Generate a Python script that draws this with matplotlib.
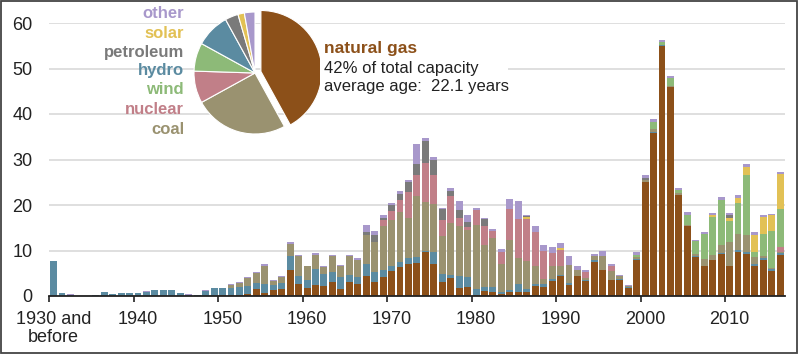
import numpy as np
import matplotlib
matplotlib.use("Agg")
import matplotlib.pyplot as plt
import matplotlib.transforms as mtrans
from matplotlib.patches import Rectangle

plt.rcParams['font.family'] = ['Liberation Sans', 'DejaVu Sans']

# capacity by initial year of operation (GW), 1930 and before .. 2016
years = list(range(1930, 2017))

gas = [0]*20 + [
    0.2, 0.3, 0.3, 0.4, 1.6, 0.7, 1.3, 1.5, 5.7, 2.6,
    1.8, 2.35, 2.3, 3.1, 1.6, 3.1, 2.6, 4.4, 3.1, 4.2,
    5.5, 6.4, 7.1, 7.2, 9.6, 7.1, 3.1, 4.0, 1.8, 2.0,
    0.3, 1.2, 0.9, 0.4, 0.8, 0.9, 0.9, 2.2, 2.0, 3.2,
    4.3, 2.5, 4.3, 3.4, 7.5, 5.7, 3.5, 3.5, 1.8, 8.0,
    25.0, 35.9, 55.0, 45.9, 22.2, 15.3, 8.6, 6.5, 7.9, 9.3,
    6.5, 9.7, 9.3, 6.7, 8.0, 5.6, 9.0]
hydro = [
    7.6, 0.6, 0.3, 0.1, 0.1, 0.25, 0.85, 0.35, 0.6, 0.6,
    0.6, 0.9, 1.3, 1.3, 1.3, 0.6, 0.3, 0.2, 1.2, 1.7,
    1.5, 1.5, 1.7, 1.8, 1.2, 1.9, 1.1, 1.3, 3.2, 1.9,
    1.7, 3.5, 2.5, 2.2, 2.6, 1.6, 1.5, 2.7, 2.2, 1.6,
    1.1, 1.1, 1.3, 1.3, 0.4, 2.6, 1.8, 0.7, 2.6, 2.1,
    1.2, 0.7, 1.0, 0.5, 0.5, 1.8, 0.7, 0.5, 0.6, 0.6,
    0.4, 0.4, 0.2, 0.2, 0.4, 0.1, 0.1, 0.3, 0.1, 0.1,
    0.1, 0.1, 0.1, 0.1, 0.1, 0.1, 0.1, 0.1, 0.1, 0.1,
    0.2, 0.4, 0.4, 0.4, 0.4, 0.4, 0.5]
coal = [0]*20 + [
    0.0, 0.6, 0.8, 1.8, 2.3, 4.0, 0.9, 1.4, 2.5, 4.3,
    3.0, 3.2, 1.5, 3.4, 2.4, 4.0, 3.9, 6.4, 6.6, 9.5,
    10.2, 11.0, 8.8, 13.5, 10.6, 10.5, 8.2, 11.3, 10.9, 10.3,
    14.2, 9.2, 10.8, 6.2, 11.0, 5.7, 6.1, 3.9, 1.2, 2.9,
    1.8, 3.9, 1.3, 0.4, 0.9, 2.9, 1.8, 0.5, 0.2, 0.5,
    0.4, 0.6, 0.1, 0.1, 0.3, 0.1, 0.6, 1.5, 1.1, 1.8,
    5.2, 3.5, 3.7, 1.5, 0.3, 0.1, 0.1]
nuclear = [0]*39 + [
    1.3,
    1.9, 2.7, 5.7, 4.5, 8.7, 6.4, 3.7, 5.9, 1.9, 0.7,
    3.1, 4.3, 1.5, 2.6, 6.8, 8.6, 9.3, 7.5, 6.2, 2.7,
    3.7, 0, 0, 1.2, 0, 0, 1.1, 0, 0, 0] + [0]*16 + [1.2]
wind = [0]*69 + [
    0.5,
    0.0, 1.6, 0.6, 1.8, 0.7, 2.4, 2.7, 5.6, 8.3, 9.9,
    4.6, 6.9, 13.2, 1.1, 5.0, 8.1, 8.4]
solar = [0]*56 + [0.3, 0, 0, 0, 0.4] + [0]*17 + [
    0.5, 0.0,
    0.6, 1.0, 1.7, 3.7, 3.7, 3.5, 7.7]
petroleum = [0]*37 + [
    0.6, 1.5, 0.5,
    1.2, 1.3, 2.2, 2.6, 4.8, 3.3, 2.3, 1.2, 1.8, 1.2,
    0, 1.5, 0, 0, 0, 0, 0.2, 0, 0, 0] + [0]*10 + [
    0.5] + [0]*9 + [0.7, 0, 0, 0, 0, 0, 0]
other = [
    0.2, 0.1, 0.05, 0, 0, 0.05, 0.1, 0.05, 0.1, 0.1,
    0.1, 0.1, 0.1, 0.1, 0.1, 0.1, 0.05, 0.1, 0.1, 0.15,
    0.15, 0.15, 0.2, 0.2, 0.25, 0.4, 0.2, 0.2, 0.4, 0.3,
    0.2, 0.3, 0.2, 0.3, 0.3, 0.3, 0.4, 1.4, 0.9, 0.6,
    0.5, 0.5, 0.5, 4.3, 0.6, 0.7, 0.3, 0.7, 1.8, 1.5,
    0.6, 0.3, 0.6, 0.6, 2.3, 3.9, 0.3, 1.3, 1.1, 1.3,
    0.95, 2.0, 0.7, 0.6, 0.4, 1.1, 0.5, 0.4, 0.3, 0.5,
    0.5, 0.6, 0.5, 0.45, 0.5, 0.5, 0.4, 0.4, 0.4, 0.6,
    0.45, 0.6, 0.7, 0.7, 0.5, 0.4, 0.3]

# share of total capacity (%) for the pie
pie_labels = ['natural gas', 'coal', 'nuclear', 'wind', 'hydro', 'petroleum', 'solar', 'other']
pie_share = [42, 25, 8.5, 7.5, 9, 3.5, 1.7, 2.8]

c_gas = '#8c5019'
c_coal = '#9a9270'
c_nuc = '#c17f88'
c_wind = '#8dba78'
c_hydro = '#5b8ba1'
c_pet = '#7a7a7a'
c_solar = '#e2c155'
c_other = '#a898cb'

stack = [(gas, c_gas), (hydro, c_hydro), (coal, c_coal), (nuclear, c_nuc),
         (wind, c_wind), (solar, c_solar), (petroleum, c_pet), (other, c_other)]

W, H = 800, 355
def fx(p): return p / W
def fy(p): return 1 - p / H

fig = plt.figure(figsize=(8, 3.55), dpi=100)
ax = fig.add_axes([fx(49.3), fy(296), (784.5 - 49.3) / W, 273 / H])

x = np.arange(len(years)) + 0.5
bottom = np.zeros(len(years))
for vals, col in stack:
    vals = np.array(vals, dtype=float)
    ax.bar(x, vals, width=0.82, bottom=bottom, color=col, linewidth=0)
    bottom += vals

ax.set_xlim(0, len(years))
ax.set_ylim(0, 60)
ax.set_yticks(range(0, 61, 10))
ax.yaxis.grid(True, color='#dcdcdc', linewidth=1.3)
ax.set_axisbelow(True)
for s in ['top', 'right', 'left']:
    ax.spines[s].set_visible(False)
ax.spines['bottom'].set_color('#222222')
ax.spines['bottom'].set_linewidth(1.3)

ax.set_xticks(range(0, 81, 10))
ax.set_xticklabels(['1930 and\nbefore'] + [str(y) for y in range(1940, 2011, 10)],
                   linespacing=1.05)
ax.tick_params(axis='x', length=4, width=1.2, color='#222222', labelsize=13,
               labelcolor='#222222', pad=7)
ax.tick_params(axis='y', length=0, labelsize=13, labelcolor='#222222', pad=12)
# labels sit a few pixels right of their tick marks
shift = mtrans.ScaledTranslation(4 / 100, 0, fig.dpi_scale_trans)
for lab in ax.get_xticklabels():
    lab.set_transform(lab.get_transform() + shift)

# white panel behind the pie inset
pax = fig.add_axes([fx(93), fy(140), (326 - 93) / W, 137 / H])
pax.set_facecolor('white')
pax.pie(pie_share, colors=[c_gas, c_coal, c_nuc, c_wind, c_hydro, c_pet, c_solar, c_other],
        startangle=90, counterclock=False, radius=1,
        explode=[0.1, 0, 0, 0, 0, 0, 0, 0],
        wedgeprops=dict(edgecolor='white', linewidth=0.8))
r = 61.0
pax.set_aspect('auto')
pax.set_xlim((93 - 255) / r, (326 - 255) / r)
pax.set_ylim((73 - 140) / r, (73 - 3) / r)
pax.set_frame_on(False)
pax.patch.set_visible(True)
pax.set_xticks([])
pax.set_yticks([])

leg = [('other', c_other, 14), ('solar', c_solar, 33), ('petroleum', c_pet, 52),
       ('hydro', c_hydro, 71), ('wind', c_wind, 90), ('nuclear', c_nuc, 109),
       ('coal', c_coal, 129)]
for name, col, yy in leg:
    fig.text(fx(184), fy(yy), name, color=col, fontsize=12, fontweight='bold',
             ha='right', va='center')

fig.patches.append(Rectangle((fx(320), fy(98)), 188 / W, 60 / H, transform=fig.transFigure,
                             facecolor='white', edgecolor='none', zorder=2))
fig.text(fx(324), fy(49), 'natural gas', color=c_gas, fontsize=12.5, fontweight='bold',
         ha='left', va='center', zorder=3)
fig.text(fx(324), fy(69), '42% of total capacity', color='#222222', fontsize=12,
         ha='left', va='center', zorder=3)
fig.text(fx(324), fy(87), 'average age:  22.1 years', color='#222222', fontsize=12,
         ha='left', va='center', zorder=3)

fig.patches.append(Rectangle((fx(0.8), fy(353)), 796 / W, 352 / H, transform=fig.transFigure,
                             facecolor='none', edgecolor='#444444', linewidth=1.3, zorder=5))

fig.savefig('out.png', dpi=100)
